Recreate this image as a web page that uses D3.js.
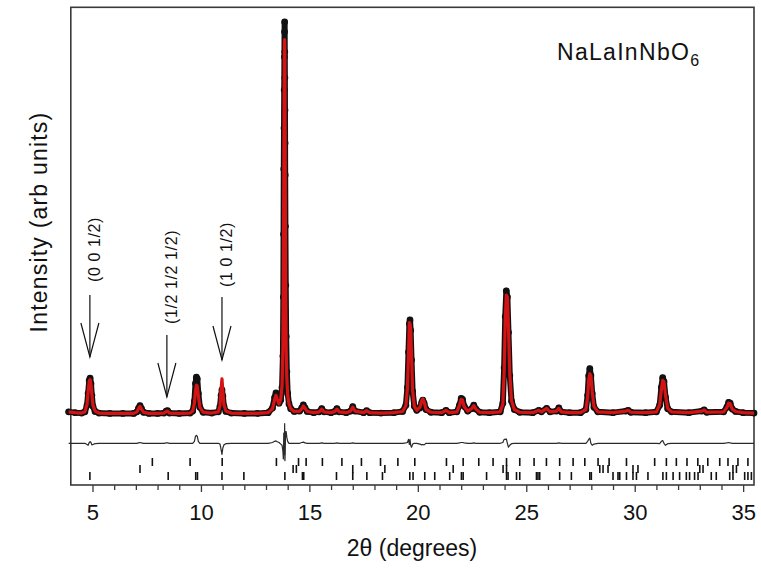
<!DOCTYPE html>
<html>
<head>
<meta charset="utf-8">
<script src="https://cdn.jsdelivr.net/npm/d3@7"></script>
<style>
  html, body { margin: 0; padding: 0; background: #fff; }
  svg { display: block; font-family: Arial, "Liberation Sans", sans-serif; }
</style>
</head>
<body>
<svg id="chart" width="761" height="570"></svg>
<script>
// Powder diffraction pattern: 2-theta sampling, observed and calculated intensities (arb. units)
const twoTheta = [
  3.9, 4.2, 4.5, 4.65, 4.75, 4.80, 4.85, 4.89, 4.93, 4.97, 5.02, 5.12, 5.3, 5.8, 6.4, 6.9,
  7.05, 7.12, 7.19, 7.26, 7.35, 7.6, 8.0, 8.3, 8.4, 8.46, 8.55, 9.0, 9.5,
  9.62, 9.70, 9.75, 9.79, 9.83, 9.88, 9.95, 10.1, 10.5, 10.8,
  10.88, 10.93, 10.97, 11.01, 11.06, 11.15, 11.4, 12.0, 12.6, 13.1,
  13.3, 13.40, 13.46, 13.52, 13.60, 13.68, 13.74, 13.78,
  13.80, 13.81, 13.82, 13.83, 13.84, 13.85, 13.855, 13.86, 13.865, 13.87, 13.875, 13.88, 13.885,
  13.895, 13.91, 13.93, 13.96, 14.00, 14.06, 14.14, 14.3,
  14.55, 14.65, 14.72, 14.80, 14.9, 15.2, 15.45, 15.57, 15.68, 16.0, 16.17, 16.27, 16.37,
  16.7, 16.9, 17.0, 17.1, 17.5, 17.64, 17.78, 18.3, 18.9,
  19.3, 19.45, 19.52, 19.57, 19.61, 19.64, 19.67, 19.71, 19.76, 19.84, 19.95,
  20.10, 20.18, 20.23, 20.29, 20.38, 20.6, 21.1, 21.3, 21.45,
  21.8, 21.92, 22.0, 22.06, 22.14, 22.3, 22.48, 22.58, 22.68, 22.85, 23.3, 23.8,
  23.92, 23.98, 24.03, 24.08, 24.13, 24.18, 24.24, 24.32, 24.45, 24.7,
  25.3, 25.58, 25.7, 25.94, 26.1, 26.4, 26.5, 26.62, 27.0, 27.5,
  27.75, 27.83, 27.88, 27.93, 27.98, 28.04, 28.12, 28.3, 29.0, 29.6, 29.7, 29.82, 30.5,
  31.0, 31.15, 31.23, 31.29, 31.35, 31.42, 31.52, 31.7, 32.5,
  33.1, 33.2, 33.32, 34.1, 34.25, 34.33, 34.4, 34.5, 34.65, 35.0, 35.5
];
const yObs = [
  8, 6, 5, 8, 25, 55, 88, 94, 80, 50, 22, 9, 5, 4, 4, 4,
  8, 17, 24, 16, 7, 4, 4, 5, 10, 11, 5, 4, 5,
  10, 35, 80, 96, 92, 55, 20, 7, 5, 8,
  22, 50, 64, 48, 22, 9, 5, 4, 4, 6,
  18, 45, 56, 44, 30, 38, 70, 150,
  300, 460, 626, 730, 827, 911, 975, 1000, 924, 858, 776, 692, 611,
  480, 330, 200, 110, 55, 28, 16, 9,
  10, 18, 26, 18, 9, 6, 8, 16, 8, 6, 9, 16, 8,
  6, 10, 21, 10, 6, 11, 6, 5, 6,
  9, 25, 70, 160, 232, 242, 215, 140, 60, 22, 12,
  18, 32, 38, 30, 14, 7, 6, 12, 6,
  8, 25, 42, 40, 22, 10, 16, 25, 15, 7, 6, 8,
  30, 120, 250, 316, 300, 210, 100, 35, 14, 7,
  6, 12, 8, 17, 8, 10, 18, 8, 6, 6,
  14, 50, 100, 118, 100, 55, 20, 8, 6, 10, 12, 7, 6,
  8, 25, 70, 95, 85, 45, 16, 8, 6,
  10, 13, 7, 8, 20, 32, 30, 15, 9, 6, 5
];
const yCalc = [
  8, 6, 5, 8, 28, 60, 86, 90, 78, 54, 25, 10, 5, 4, 4, 4,
  8, 16, 22, 15, 7, 4, 4, 5, 9, 10, 5, 4, 5,
  10, 30, 62, 76, 74, 50, 20, 7, 5, 8,
  24, 66, 92, 60, 26, 10, 5, 4, 4, 6,
  16, 40, 50, 40, 28, 40, 75, 170,
  340, 470, 600, 720, 850, 940, 955, 950, 930, 900, 820, 720, 640,
  470, 300, 170, 95, 50, 28, 16, 9,
  10, 16, 23, 17, 9, 6, 8, 15, 8, 6, 9, 15, 8,
  6, 10, 20, 10, 6, 11, 6, 5, 6,
  9, 24, 68, 150, 235, 232, 220, 150, 62, 22, 12,
  20, 36, 41, 34, 14, 7, 6, 12, 6,
  8, 24, 40, 38, 21, 10, 16, 24, 15, 7, 6, 8,
  28, 110, 240, 305, 300, 220, 105, 36, 14, 7,
  6, 12, 8, 17, 8, 10, 17, 8, 6, 6,
  14, 45, 90, 105, 100, 60, 22, 8, 6, 10, 12, 7, 6,
  8, 26, 65, 88, 85, 50, 17, 8, 6,
  10, 13, 7, 8, 19, 30, 29, 15, 9, 6, 5
];

// Bragg reflection markers, three rows
const reflTop = [7.76, 9.5, 10.98, 13.48, 14.5, 14.85, 15.6, 16.5, 17.4, 18.28, 19.08, 19.86, 21.32, 22.09,
  22.81, 23.47, 24.09, 24.7, 25.36, 25.93, 26.54, 27.16, 27.7, 28.31, 28.82, 29.62, 30.92, 31.46, 31.92,
  32.41, 32.91, 33.37, 33.92, 34.3, 34.76, 35.22];
const reflMid = [7.19, 14.25, 14.4, 17.0, 18.48, 21.63, 23.93, 24.09, 28.39, 28.54, 28.77, 29.92, 30.15,
  33.0, 33.15, 34.53, 34.69];
const reflBottom = [4.88, 8.49, 9.76, 9.84, 10.97, 11.98, 13.87, 14.68, 14.74, 16.25, 17.0, 17.65, 18.37,
  19.63, 19.78, 20.32, 20.78, 21.47, 22.01, 22.09, 23.17, 24.09, 24.16, 24.55, 24.7, 25.47, 25.54, 25.62,
  26.54, 27.08, 27.93, 28.0, 29.0, 29.23, 29.31, 29.62, 29.92, 30.08, 30.61, 31.3, 31.46, 31.77, 32.07,
  32.38, 32.53, 32.76, 32.92, 33.53, 33.76, 34.38, 34.53, 35.07, 35.22, 35.38];

// Superlattice reflections marked with arrows
const arrowPos = [4.88, 8.43, 10.97];
const arrowLabels = ["(0 0 1/2)", "(1/2 1/2 1/2)", "(1 0 1/2)"];

const xTickValues = [5, 10, 15, 20, 25, 30, 35];
const diffOffset = -72;

const svg = d3.select("#chart");
const plotL = 70.8, plotR = 754, plotT = 7.3, plotB = 485;

const x = d3.scaleLinear().domain([4, 35.5]).range([plotL, plotR]);
const y = d3.scaleLinear().domain([0, 1000]).range([415, 22]);
const row = d3.scaleLinear().domain([0, 2]).range([462, 476]);

const pts = twoTheta.map((t, i) => ({ t, o: yObs[i], c: yCalc[i], d: yObs[i] - yCalc[i] }));

// Frame
svg.append("rect")
  .attr("x", plotL).attr("y", plotT)
  .attr("width", plotR - plotL).attr("height", plotB - plotT)
  .attr("fill", "none").attr("stroke", "#3a3a3a").attr("stroke-width", 1.6);

// x axis ticks: minor every degree, labels every 5
const xAxis = d3.axisBottom(x)
  .tickValues(d3.range(5, 36, 1))
  .tickSize(5)
  .tickFormat(d => (xTickValues.includes(d) ? d : ""));
const gx = svg.append("g").attr("transform", `translate(0,${plotB})`).call(xAxis);
gx.select(".domain").remove();
gx.selectAll(".tick line")
  .attr("stroke", "#3a3a3a").attr("stroke-width", 1.3)
  .attr("y2", d => (d % 5 === 0 ? 7 : 5));
gx.selectAll(".tick text")
  .attr("y", 19).attr("dy", "0.71em")
  .attr("font-size", 22).attr("fill", "#111")
  .attr("font-family", "Arial, 'Liberation Sans', sans-serif");

// Observed (dark band + markers), calculated (red), difference
const lineObs = d3.line().x(d => x(d.t)).y(d => y(d.o));
const lineCalc = d3.line().x(d => x(d.t)).y(d => y(d.c));
const lineDiff = d3.line().x(d => x(d.t)).y(d => y(d.d + diffOffset));

svg.append("path").datum(pts).attr("d", lineObs)
  .attr("fill", "none").attr("stroke", "#111").attr("stroke-width", 6)
  .attr("stroke-linejoin", "round").attr("stroke-linecap", "round");
svg.append("g").selectAll("circle").data(pts).join("circle")
  .attr("cx", d => x(d.t)).attr("cy", d => y(d.o)).attr("r", 3.4)
  .attr("fill", "#111");
svg.append("path").datum(pts).attr("d", lineCalc)
  .attr("fill", "none").attr("stroke", "#d41414").attr("stroke-width", 3.2)
  .attr("stroke-linejoin", "round");
svg.append("path").datum(pts).attr("d", lineDiff)
  .attr("fill", "none").attr("stroke", "#2a2a2a").attr("stroke-width", 1.2)
  .attr("stroke-linejoin", "round");

// Reflection markers
[reflTop, reflMid, reflBottom].forEach((list, r) => {
  svg.append("g").selectAll("line").data(list).join("line")
    .attr("x1", d => x(d)).attr("x2", d => x(d))
    .attr("y1", row(r) - 4).attr("y2", row(r) + 4)
    .attr("stroke", "#111").attr("stroke-width", 1.6);
});

// Arrows with rotated hkl labels
const arrowGeom = [
  { y0: 295, y1: 357, lbl: 282 },
  { y0: 335, y1: 397, lbl: 324 },
  { y0: 297, y1: 360, lbl: 287 }
];
arrowPos.forEach((p, i) => {
  const ax = x(p), g = arrowGeom[i];
  const a = svg.append("g").attr("stroke", "#111").attr("stroke-width", 1.2).attr("fill", "none");
  a.append("line").attr("x1", ax).attr("x2", ax).attr("y1", g.y0).attr("y2", g.y1);
  a.append("polyline").attr("points", `${ax - 9},${g.y1 - 34} ${ax},${g.y1} ${ax + 9},${g.y1 - 34}`);
  svg.append("text")
    .attr("transform", `translate(${ax + 10.5},${g.lbl}) rotate(-90)`)
    .attr("font-size", 16).attr("letter-spacing", 0.6).attr("fill", "#111")
    .text(arrowLabels[i]);
});

// Compound label
const label = svg.append("text").attr("x", 557).attr("y", 60)
  .attr("font-size", 23).attr("letter-spacing", 1.3).attr("fill", "#111");
label.append("tspan").text("NaLaInNbO");
label.append("tspan").attr("font-size", 16).attr("dy", 6).text("6");

// Axis titles
svg.append("text")
  .attr("x", 412).attr("y", 556)
  .attr("text-anchor", "middle").attr("font-size", 23).attr("fill", "#111")
  .text("2θ (degrees)");
svg.append("text")
  .attr("transform", `translate(47,222) rotate(-90)`)
  .attr("text-anchor", "middle").attr("font-size", 23).attr("letter-spacing", 1.2).attr("fill", "#111")
  .text("Intensity (arb units)");
</script>
</body>
</html>
